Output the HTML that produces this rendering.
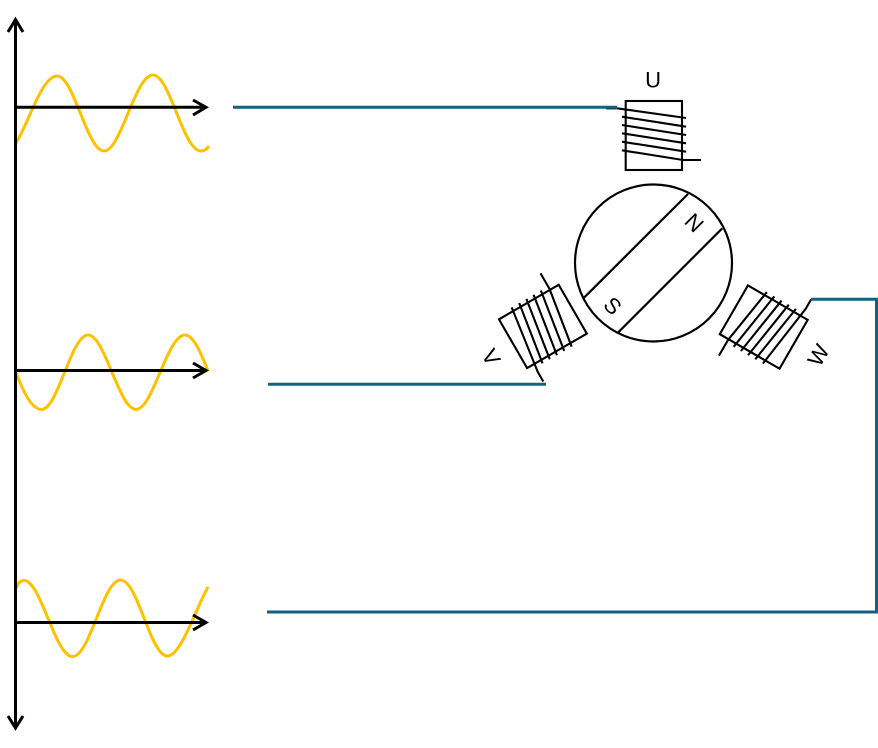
<!DOCTYPE html>
<html><head><meta charset="utf-8"><style>
html,body{margin:0;padding:0;background:#fff}
svg{display:block}
text{font-family:"Liberation Sans",sans-serif;font-size:22px;text-anchor:middle;fill:#000}
</style></head><body>
<svg width="878" height="748" viewBox="0 0 878 748" xmlns="http://www.w3.org/2000/svg">
<defs>
<g id="coil" fill="none" stroke="#000" stroke-width="2.1">
<rect x="625.7" y="101" width="56.3" height="69"/>
<path d="M606 108.3H617L686 118M622 116.7L686 126.7M622 125L686 135M622 133.3L686 143.3M622 141.7L686 151.7M622 150.3L683 160H701"/>
</g>
</defs>
<g fill="none" stroke="#FFC000" stroke-width="3">
<path d="M16 143C29 122 42 76 57 76C74 76 87 151 104 151C121 151 135 75 153 75C170 75 183 151 201 151C204 151 207 149 209 146"/>
<path d="M16 372C22 389 31 409.5 41.5 409.5C58 409.5 71 335 88 335C105 335 119 409.5 136 409.5C153 409.5 167 335 185 335C194 335 202 356 208 371"/>
<path d="M16 588C18 583 21 580.5 24 580.5C41 580.5 55 656.5 72.5 656.5C90 656.5 103 580 120.5 580C138 580 150 656 167.5 656C181 656 197 606 208 587"/>
</g>
<g fill="none" stroke="#000" stroke-width="3">
<path d="M15.5 20V727"/>
<path d="M8 32L15.5 19.5L23 32M8 716L15.5 728L23 716"/>
<path d="M16 107.3H205M193 100L206 107.3L193 115"/>
<path d="M16 370.5H205M193 363L206 370.5L193 378"/>
<path d="M16 622.5H205M193 615L206 622.5L193 630"/>
</g>
<use href="#coil"/>
<use href="#coil" transform="rotate(-120 653.5 263)"/>
<use href="#coil" transform="rotate(120 653.5 263)"/>
<g fill="none" stroke="#156082" stroke-width="3">
<path d="M233 107.3H617"/>
<path d="M268 384.3H546"/>
<path d="M267 612H876.5V299.3H811"/>
</g>
<g fill="none" stroke="#000" stroke-width="2.2">
<circle cx="653.5" cy="263" r="78.5"/>
<path d="M584 297.7L688 194M618.3 332.3L722.3 228.3"/>
</g>
<text transform="translate(653 79.5)" y="8">U</text>
<text transform="translate(694.5 222.5) rotate(45)" y="8">N</text>
<text transform="translate(613 305.5) rotate(45)" y="8">S</text>
<text transform="translate(491.5 357) rotate(60)" y="8">V</text>
<text transform="translate(818 355) rotate(-60)" y="8">W</text>
</svg>
</body></html>
